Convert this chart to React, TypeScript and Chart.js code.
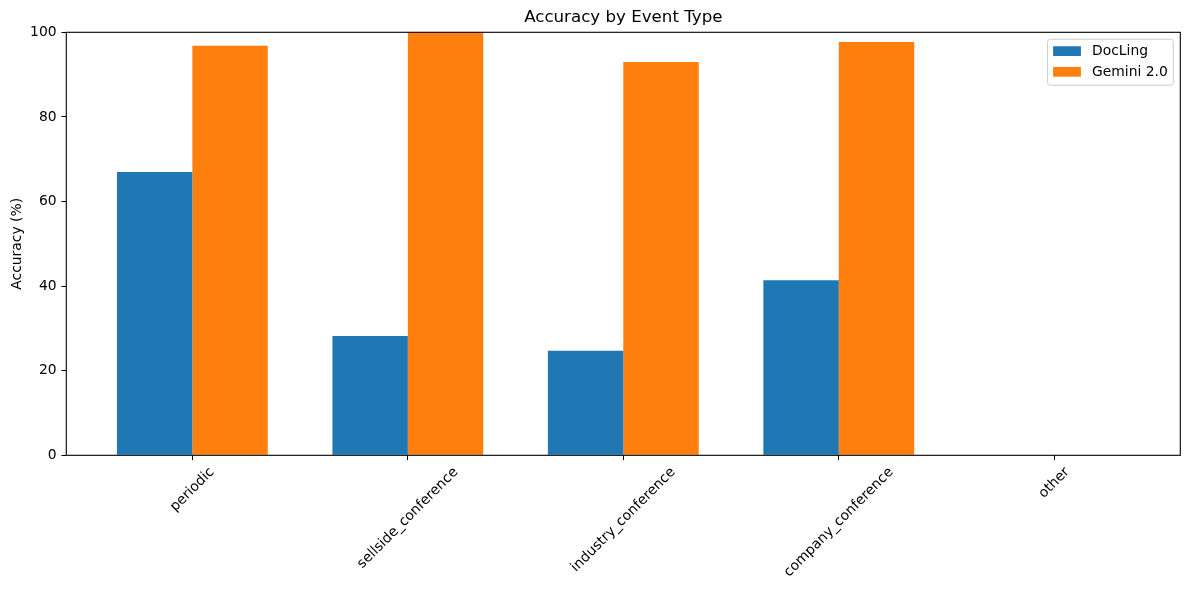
import { useEffect, useRef } from "react";
import { Chart, registerables } from "chart.js";

Chart.register(...registerables);

const categories = [
  "periodic",
  "sellside_conference",
  "industry_conference",
  "company_conference",
  "other",
];
const doclingValues = [67.0, 28.2, 24.7, 41.4, 0];
const geminiValues = [96.8, 100, 93.0, 97.7, 0];
const seriesLabels = ["DocLing", "Gemini 2.0"];
const seriesColors = ["#1f77b4", "#ff7f0e"];
const chartTitle = "Accuracy by Event Type";
const yTitle = "Accuracy (%)";

const FONT = "DejaVu Sans";
const FS = 13.89; // 10pt @ 100dpi
const TITLE_FS = 16.67; // 12pt

const overlayPlugin = {
  id: "mplOverlay",
  afterDraw(chart: any) {
    const { ctx, chartArea } = chart;
    const { left, right, top, bottom } = chartArea;
    ctx.save();

    // spines
    ctx.strokeStyle = "#000";
    ctx.lineWidth = 1.1;
    ctx.strokeRect(left, top, right - left, bottom - top);

    // title
    ctx.fillStyle = "#000";
    ctx.font = `${TITLE_FS}px "${FONT}"`;
    ctx.textAlign = "center";
    ctx.textBaseline = "alphabetic";
    ctx.fillText(chartTitle, (left + right) / 2, top - 10.5);

    // rotated x tick labels (matplotlib-style centered bbox)
    const xScale = chart.scales.x;
    ctx.font = `${FS}px "${FONT}"`;
    const H = FS * 0.996;
    const d = FS * 0.236;
    categories.forEach((label, i) => {
      const px = xScale.getPixelForValue(i);
      const w = ctx.measureText(label).width;
      const side = (w + H) * Math.SQRT1_2;
      const cy = bottom + 4.86 + 4.86 + side / 2;
      ctx.save();
      ctx.translate(px, cy);
      ctx.rotate(-Math.PI / 4);
      ctx.textAlign = "center";
      ctx.textBaseline = "alphabetic";
      ctx.fillText(label, 0, H / 2 - d);
      ctx.restore();
    });

    // legend (upper right, inside axes)
    const pad = FS * 0.4;
    const handleW = FS * 2.0;
    const handleH = FS * 0.7;
    const textPad = FS * 0.8;
    const labelW = Math.max(
      ...chart.data.datasets.map((ds: any) => ctx.measureText(ds.label).width)
    );
    const boxW = pad + handleW + textPad + labelW + pad;
    const boxH = 46;
    const bx = right - FS * 0.5 - boxW;
    const by = top + FS * 0.5;
    const r = 2.8;
    ctx.beginPath();
    ctx.moveTo(bx + r, by);
    ctx.lineTo(bx + boxW - r, by);
    ctx.arcTo(bx + boxW, by, bx + boxW, by + r, r);
    ctx.lineTo(bx + boxW, by + boxH - r);
    ctx.arcTo(bx + boxW, by + boxH, bx + boxW - r, by + boxH, r);
    ctx.lineTo(bx + r, by + boxH);
    ctx.arcTo(bx, by + boxH, bx, by + boxH - r, r);
    ctx.lineTo(bx, by + r);
    ctx.arcTo(bx, by, bx + r, by, r);
    ctx.closePath();
    ctx.fillStyle = "rgba(255,255,255,0.8)";
    ctx.fill();
    ctx.strokeStyle = "#cccccc";
    ctx.lineWidth = 1;
    ctx.stroke();

    const rowCenters = [11.9, 32.55];
    chart.data.datasets.forEach((ds: any, i: number) => {
      const cy = by + rowCenters[i];
      ctx.fillStyle = ds.backgroundColor;
      ctx.fillRect(bx + pad, cy - handleH / 2, handleW, handleH);
      ctx.fillStyle = "#000";
      ctx.textAlign = "left";
      ctx.textBaseline = "middle";
      ctx.fillText(ds.label, bx + pad + handleW + textPad, cy + 0.5);
    });

    ctx.restore();
  },
};

export default function App() {
  const canvasRef = useRef<HTMLCanvasElement | null>(null);

  useEffect(() => {
    if (!canvasRef.current) return;
    Chart.defaults.font.family = FONT;
    const chart = new Chart(canvasRef.current, {
      type: "bar",
      data: {
        datasets: [
          {
            label: seriesLabels[0],
            data: doclingValues.map((v, i) => ({ x: i, y: v })),
            backgroundColor: seriesColors[0],
            borderWidth: 0,
          },
          {
            label: seriesLabels[1],
            data: geminiValues.map((v, i) => ({ x: i, y: v })),
            backgroundColor: seriesColors[1],
            borderWidth: 0,
          },
        ],
      },
      options: {
        animation: false,
        responsive: true,
        maintainAspectRatio: false,
        categoryPercentage: 0.7,
        barPercentage: 1.0,
        layout: { padding: { top: 32.3, right: 8.7, left: 0, bottom: 0 } },
        plugins: {
          legend: { display: false },
          title: { display: false },
          tooltip: { enabled: false },
        },
        scales: {
          x: {
            type: "linear",
            min: -0.585,
            max: 4.585,
            offset: false,
            afterBuildTicks: (scale: any) => {
              scale.ticks = categories.map((_, i) => ({ value: i }));
            },
            afterFit: (scale: any) => {
              scale.height = 134.7;
            },
            ticks: { display: false },
            grid: {
              offset: false,
              drawOnChartArea: false,
              drawTicks: true,
              tickLength: 4.86,
              color: "#000",
              lineWidth: 1,
            },
            border: { display: false },
          },
          y: {
            type: "linear",
            min: 0,
            max: 100,
            afterFit: (scale: any) => {
              scale.width = 66.3;
            },
            ticks: {
              stepSize: 20,
              padding: 4.86,
              color: "#000",
              font: { family: FONT, size: FS },
            },
            grid: {
              drawOnChartArea: false,
              drawTicks: true,
              tickLength: 4.86,
              color: "#000",
              lineWidth: 1,
            },
            border: { display: false },
            title: {
              display: true,
              text: yTitle,
              color: "#000",
              font: { family: FONT, size: FS },
              padding: { top: 8.7, bottom: 0 },
            },
          },
        },
      },
      plugins: [overlayPlugin],
    } as any);
    return () => chart.destroy();
  }, []);

  return (
    <div
      style={{
        position: "fixed",
        left: 0,
        top: 0,
        width: 1189,
        height: 590,
        background: "#fff",
      }}
    >
      <canvas ref={canvasRef} />
    </div>
  );
}
